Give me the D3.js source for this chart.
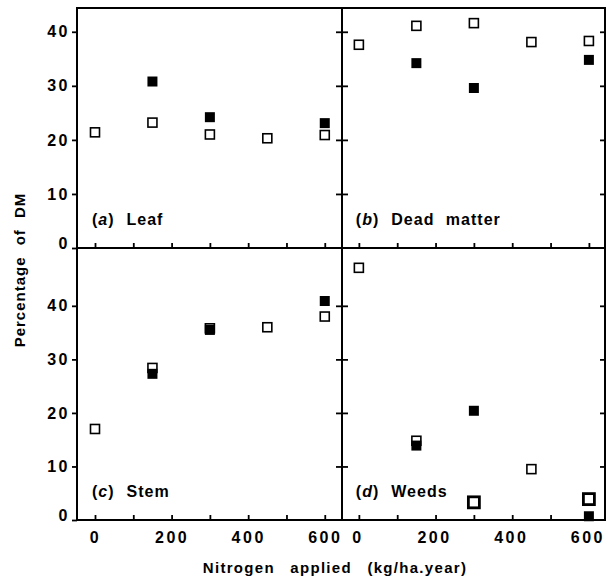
<!DOCTYPE html>
<html>
<head>
<meta charset="utf-8">
<script src="https://cdn.jsdelivr.net/npm/d3@7.9.0/dist/d3.min.js"></script>
<style>
  body { margin: 0; background: #fff; }
  svg { display: block; font-family: "Liberation Sans", Arial, sans-serif; font-weight: bold; }
  .tick text { font-size: 16px; letter-spacing: 2.5px; fill: #000; }
  .domain { display: none; }
</style>
</head>
<body>
<svg id="chart" width="607" height="581"></svg>
<script>
// nitrogen rates (kg/ha.year)
const nitrogen = [0, 150, 300, 450, 600];

// percentage of DM, open and filled squares
const leafOpen = [21.4, 23.2, 21.0, 20.3, 20.9];
const leafFilled = [null, 30.8, 24.2, null, 23.1];
const deadOpen = [37.6, 41.1, 41.6, 38.1, 38.3];
const deadFilled = [null, 34.2, 29.6, null, 34.8];
const stemOpen = [17.0, 28.4, 35.8, 36.0, 38.0];
const stemFilled = [null, 27.3, 35.5, null, 40.9];
const weedsOpen = [47.1, 14.8, null, 9.5, null];
const weedsOpenHeavy = [null, null, 3.3, null, 3.9];
const weedsFilled = [null, 13.9, 20.4, null, 0.7];

const xTicks = [0, 100, 200, 300, 400, 500, 600];
const xTickLabels = [0, 200, 400, 600];
const yTicks = [0, 10, 20, 30, 40];

const svg = d3.select('#chart');

let xLeft = d3.scaleLinear().domain([-47, 645]).range([77, 342]);
let xRight = d3.scaleLinear().domain([-44, 642]).range([342, 605]);
let yTop = d3.scaleLinear().domain([0, 44.4]).range([248, 8]);
let yBot = d3.scaleLinear().domain([0, 50.8]).range([520, 248]);

const panels = [
  { tag: 'a', name: 'Leaf', x: xLeft, y: yTop, open: leafOpen, filled: leafFilled },
  { tag: 'b', name: 'Dead matter', x: xRight, y: yTop, open: deadOpen, filled: deadFilled },
  { tag: 'c', name: 'Stem', x: xLeft, y: yBot, open: stemOpen, filled: stemFilled },
  { tag: 'd', name: 'Weeds', x: xRight, y: yBot, open: weedsOpen, filled: weedsFilled, heavy: weedsOpenHeavy },
];

// frame lines
const frame = svg.append('g').attr('stroke', '#000').attr('stroke-width', 2);
frame.append('line').attr('x1', 77).attr('x2', 77).attr('y1', 7).attr('y2', 521);
frame.append('line').attr('x1', 342).attr('x2', 342).attr('y1', 7).attr('y2', 521);
frame.append('line').attr('x1', 605).attr('x2', 605).attr('y1', 7).attr('y2', 521);
frame.append('line').attr('x1', 76).attr('x2', 606).attr('y1', 8).attr('y2', 8);
frame.append('line').attr('x1', 76).attr('x2', 606).attr('y1', 248).attr('y2', 248);
frame.append('line').attr('x1', 76).attr('x2', 606).attr('y1', 520).attr('y2', 520);

// y axes
[yTop, yBot].forEach((y) => {
  svg.append('g').attr('transform', 'translate(77,0)')
    .call(d3.axisLeft(y).tickValues(yTicks).tickSize(5).tickPadding(2))
    .call(g => g.selectAll('.tick line').attr('stroke-width', 1.8));
  svg.append('g').attr('transform', 'translate(348,0)')
    .call(d3.axisLeft(y).tickValues(yTicks.slice(1)).tickSize(12).tickFormat(''))
    .call(g => g.selectAll('.tick line').attr('stroke-width', 1.8));
  svg.append('g').attr('transform', 'translate(605,0)')
    .call(d3.axisLeft(y).tickValues(yTicks.slice(1)).tickSize(5).tickFormat(''))
    .call(g => g.selectAll('.tick line').attr('stroke-width', 1.8));
});
svg.selectAll('.tick text').filter(d => d === 0).attr('dy', '0.05em');

// x axes
[xLeft, xRight].forEach((x, i) => {
  [248, 520].forEach((yy) => {
    svg.append('g').attr('transform', `translate(0,${yy})`)
      .call(d3.axisTop(x).tickValues(xTicks).tickSize(5).tickFormat(''))
      .call(g => g.selectAll('.tick line').attr('stroke-width', 1.8));
  });
  svg.append('g').attr('transform', `translate(${i ? -1.5 : 0},520)`)
    .call(d3.axisBottom(x).tickValues(xTickLabels).tickSize(0).tickPadding(12));
});

// points
panels.forEach((p) => {
  let g = svg.append('g');
  let openPts = nitrogen.map((n, i) => [n, p.open[i]]).filter(d => d[1] != null);
  let filledPts = nitrogen.map((n, i) => [n, p.filled[i]]).filter(d => d[1] != null);
  g.selectAll('.open').data(openPts).join('rect')
    .attr('x', d => p.x(d[0]) - 4.5).attr('y', d => p.y(d[1]) - 4.5)
    .attr('width', 9).attr('height', 9)
    .attr('fill', '#fff').attr('stroke', '#000').attr('stroke-width', 1.6);
  if (p.heavy) {
    let heavyPts = nitrogen.map((n, i) => [n, p.heavy[i]]).filter(d => d[1] != null);
    g.selectAll('.heavy').data(heavyPts).join('rect')
      .attr('x', d => p.x(d[0]) - 5.5).attr('y', d => p.y(d[1]) - 5.5)
      .attr('width', 11).attr('height', 11)
      .attr('fill', '#fff').attr('stroke', '#000').attr('stroke-width', 2.8);
  }
  g.selectAll('.filled').data(filledPts).join('rect')
    .attr('x', d => p.x(d[0]) - 5).attr('y', d => p.y(d[1]) - 5)
    .attr('width', 10).attr('height', 10)
    .attr('fill', '#000');

  // panel label
  let t = svg.append('text')
    .attr('x', p.x(0) - 3).attr('y', p.y(0) - 23)
    .attr('font-size', 16).attr('letter-spacing', 1).attr('word-spacing', 6);
  t.append('tspan').text('(');
  t.append('tspan').attr('font-style', 'italic').text(p.tag);
  t.append('tspan').text(')');
  t.append('tspan').attr('dx', 12).text(p.name);
});

// axis titles
svg.append('text')
  .attr('x', 335).attr('y', 573)
  .attr('text-anchor', 'middle')
  .attr('font-size', 15).attr('letter-spacing', 1.3).attr('word-spacing', 10)
  .text('Nitrogen applied (kg/ha.year)');

svg.append('text')
  .attr('transform', 'translate(25,270) rotate(-90)')
  .attr('text-anchor', 'middle')
  .attr('font-size', 15).attr('letter-spacing', 1).attr('word-spacing', 6)
  .text('Percentage of DM');
</script>
</body>
</html>
